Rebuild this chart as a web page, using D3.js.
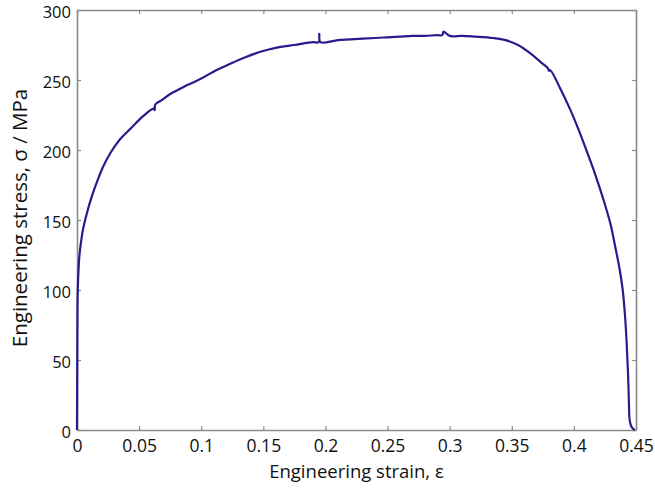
<!DOCTYPE html>
<html lang="en">
<head>
<meta charset="UTF-8">
<title>Engineering stress-strain curve</title>
<script src="https://d3js.org/d3.v7.min.js"></script>
<style>
    body { margin: 0; background: #fff; font-family: "Open Sans", Arial, sans-serif; }
    .tick text { fill: #111; }
    .axis-title { fill: #111; }
</style>
</head>
<body>
<div id="chart"></div>
<script>
// values
const strain = [0, 0.0002, 0.0004, 0.001, 0.002, 0.0035, 0.005, 0.008, 0.012, 0.016,
    0.021, 0.027, 0.034, 0.044, 0.053, 0.0615, 0.0625, 0.063, 0.068, 0.075,
    0.088, 0.100, 0.112, 0.122, 0.135, 0.147, 0.160, 0.175, 0.190, 0.1945,
    0.195, 0.196, 0.210, 0.220, 0.240, 0.250, 0.260, 0.270, 0.280, 0.290,
    0.294, 0.295, 0.300, 0.310, 0.320, 0.335, 0.345, 0.355, 0.365, 0.373,
    0.379, 0.380, 0.381, 0.389, 0.397, 0.404, 0.410, 0.417, 0.424, 0.4295,
    0.4335, 0.4368, 0.4393, 0.4413, 0.4426, 0.4436, 0.4443, 0.4449, 0.4465, 0.449];
const stress = [0, 50, 90, 110, 125, 136, 144, 155, 167, 177,
    188, 198, 207, 216, 224, 229.5, 228.5, 232.5, 235.5, 240,
    246, 251, 257, 261, 266, 270, 273, 275, 277, 277,
    283, 277, 278.5, 279, 280, 280.5, 281, 281.5, 281.5, 282,
    282, 284.5, 281.5, 281.5, 281, 280, 278.5, 275, 269, 263,
    258.5, 256.5, 257, 244, 229, 214, 200, 183, 164, 147,
    130, 115, 100, 80, 60, 40, 20, 7, 2, 0];
const xTicks = [0, 0.05, 0.1, 0.15, 0.2, 0.25, 0.3, 0.35, 0.4, 0.45];
const yTicks = [0, 50, 100, 150, 200, 250, 300];

const data = strain.map((e, i) => ({ e: e, s: stress[i] }));

const margin = { top: 10, right: 19, bottom: 64, left: 77 },
    width = 655 - margin.left - margin.right,
    height = 494 - margin.top - margin.bottom;

const svg = d3.select("#chart").append("svg")
    .attr("width", 655)
    .attr("height", 494)
    .append("g")
    .attr("transform", `translate(${margin.left},${margin.top})`);

const x = d3.scaleLinear().domain([0, 0.45]).range([0, width]);
const y = d3.scaleLinear().domain([0, 300]).range([height, 0]);

const fmt = d => d === 0 ? "0" : String(d);
const axisColor = "#8a8a8a";

// bottom + left axes with labels, ticks pointing inward
const xAxis = svg.append("g")
    .attr("transform", `translate(0,${height})`)
    .call(d3.axisBottom(x).tickValues(xTicks).tickFormat(fmt).tickSizeInner(-4).tickSizeOuter(0).tickPadding(10));
const yAxis = svg.append("g")
    .call(d3.axisLeft(y).tickValues(yTicks).tickFormat(fmt).tickSizeInner(-4).tickSizeOuter(0).tickPadding(6));

// mirrored ticks on top and right
const xTop = svg.append("g")
    .call(d3.axisTop(x).tickValues(xTicks).tickFormat("").tickSizeInner(-4).tickSizeOuter(0));
const yRight = svg.append("g")
    .attr("transform", `translate(${width},0)`)
    .call(d3.axisRight(y).tickValues(yTicks).tickFormat("").tickSizeInner(-4).tickSizeOuter(0));

[xAxis, yAxis, xTop, yRight].forEach(g => {
    g.select(".domain").attr("stroke", axisColor).attr("stroke-width", 1.6);
    g.selectAll(".tick line").attr("stroke", axisColor).attr("stroke-width", 1.2);
    g.selectAll("text").style("font-family", "'Open Sans', Arial, sans-serif");
});
xAxis.selectAll(".tick text").style("font-size", "17.5px");
yAxis.selectAll(".tick text").style("font-size", "16.5px").attr("dy", "0.45em");

// the curve
svg.append("path")
    .datum(data)
    .attr("fill", "none")
    .attr("stroke", "#2a1a8e")
    .attr("stroke-width", 2.2)
    .attr("stroke-linejoin", "round")
    .attr("d", d3.line().curve(d3.curveCatmullRom.alpha(0.5)).x(d => x(d.e)).y(d => y(d.s)));

svg.append("text")
    .attr("class", "axis-title")
    .attr("x", width / 2)
    .attr("y", height + 48)
    .attr("text-anchor", "middle")
    .style("font-size", "18.5px")
    .text("Engineering strain, ε");

svg.append("text")
    .attr("class", "axis-title")
    .attr("transform", `translate(${-50},${height / 2 - 2}) rotate(-90)`)
    .attr("text-anchor", "middle")
    .style("font-size", "20.5px")
    .text("Engineering stress, σ / MPa");
</script>
</body>
</html>
